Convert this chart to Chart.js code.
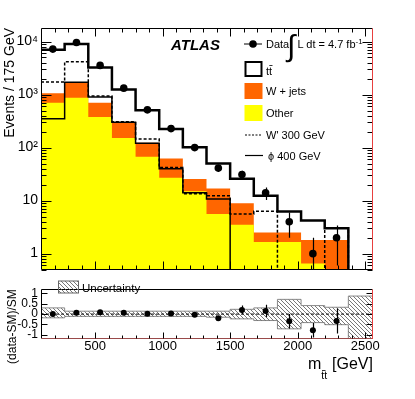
<!DOCTYPE html>
<html>
<head>
    <title>m_tt spectrum</title>
    <script src="https://cdn.jsdelivr.net/npm/chart.js"></script>
    <style>
        body {
            margin: 0;
            background-color: #ffffff;
        }

        #wrap {
            position: relative;
            width: 415px;
            height: 399px;
            overflow: hidden;
        }

        canvas {
            position: absolute;
            left: 0;
        }

        #overlay {
            position: absolute;
            left: 0;
            top: 0;
            pointer-events: none;
            font-family: "Liberation Sans", Arial, sans-serif;
        }
    </style>
</head>
<body>
    <div id="wrap">
        <canvas id="mainChart" width="415" height="281" style="top:0px"></canvas>
        <canvas id="ratioChart" width="415" height="120" style="top:279px"></canvas>
        <svg id="overlay" width="415" height="399">
            <defs>
                <pattern id="hatchLegend" width="4" height="4" patternUnits="userSpaceOnUse">
                    <path d="M0,0 L4,4 M-1,3 L1,5 M3,-1 L5,1" stroke="#555" stroke-width="0.8"/>
                </pattern>
            </defs>
            <text x="171" y="50" font-size="15" font-weight="bold" font-style="italic">ATLAS</text>

            <line x1="244" y1="44" x2="262" y2="44" stroke="#000" stroke-width="1"/>
            <circle cx="253" cy="44" r="3.8" fill="#000"/>
            <text x="266" y="48" font-size="11">Data</text>
            <text x="287" y="56" font-size="30" font-weight="lighter">∫</text>
            <text x="297.5" y="48" font-size="11">L dt = 4.7 fb<tspan font-size="8" dy="-4">-1</tspan></text>

            <rect x="245.5" y="62" width="16" height="14" fill="#fff" stroke="#000" stroke-width="2"/>
            <text x="266" y="75" font-size="11">tt</text>
            <line x1="269.3" y1="65.5" x2="272.5" y2="65.5" stroke="#000" stroke-width="0.8"/>

            <rect x="244.5" y="83" width="18" height="16" fill="#ff6600"/>
            <text x="266" y="94.5" font-size="11">W + jets</text>

            <rect x="244.5" y="105" width="18" height="16" fill="#ffff00"/>
            <text x="266" y="116.5" font-size="11">Other</text>

            <line x1="245" y1="135" x2="262" y2="135" stroke="#000" stroke-width="1.2" stroke-dasharray="2,1.5"/>
            <text x="266" y="139" font-size="11">W' 300 GeV</text>

            <line x1="245" y1="155.5" x2="263" y2="155.5" stroke="#000" stroke-width="1.2"/>
            <text x="268" y="159.5" font-size="11">ϕ 400 GeV</text>

            <rect x="58.5" y="281" width="20" height="12" fill="url(#hatchLegend)" stroke="#666" stroke-width="1"/>
            <text x="82" y="292" font-size="11.5">Uncertainty</text>

            <text x="308" y="369" font-size="16">m<tspan font-size="10.5" dy="9.5">tt</tspan><tspan x="332" dy="-9.5" font-size="16">[GeV]</tspan></text>
            <line x1="322" y1="370.5" x2="325.5" y2="370.5" stroke="#000" stroke-width="0.8"/>
        </svg>
    </div>

    <script>
        Chart.defaults.font.family = '"Liberation Sans", Arial, sans-serif';
        Chart.defaults.color = '#000';

        // histogram binning (GeV)
        var binEdges = [100, 275, 450, 625, 800, 975, 1150, 1325, 1500, 1675, 1850, 2025, 2200, 2375, 2550];

        // observed events and their errors
        var dataEvents = [7200, 9600, 3550, 1320, 515, 228, 100, 41, 31, 14, 4, 1, 2];
        var dataErrors = [85, 98, 60, 36, 23, 15, 10, 6.4, 5.6, 3.7, 2.0, 1.0, 1.4];

        // SM backgrounds per bin
        var ttbar = [5940, 7320, 2530, 937, 384, 162, 76, 33, 17, 9.9, 3.7, 2.4, 1.2, 0];
        var wjets = [362, 809, 320, 152, 56, 35, 10.5, 11.4, 5.4, 0.85, 0.85, 1.15, 1.8, 0];
        var other = [698, 871, 378, 151, 67, 27, 15, 5.6, 3.5, 1.65, 1.65, 0.65, 0, 0];

        // signal hypotheses
        var wprime300 = [1730, 4150, 935, 307, 145, 42, 13.5, 12.4, 5.6, 6.3, 0, 0, 3.0, 0];
        var phi400 = [348, 1700, 895, 300, 121, 40, 14, 10.7, 0, 0, 0, 0, 0, 0];

        // ratio panel
        var ratioValues = [0.0, 0.07, 0.09, 0.07, 0.02, 0.03, -0.03, -0.2, 0.2, 0.15, -0.34, -0.78, -0.33];
        var ratioErrors = [0.01, 0.01, 0.02, 0.03, 0.04, 0.06, 0.08, 0.1, 0.21, 0.3, 0.35, 0.35, 0.6];
        var uncUp = [0.3, 0.14, 0.14, 0.14, 0.14, 0.14, 0.14, 0.14, 0.23, 0.3, 0.71, 0.41, 0.33, 0.87];
        var uncDown = [-0.18, -0.11, -0.11, -0.11, -0.11, -0.11, -0.11, -0.15, -0.23, -0.31, -0.71, -0.41, -0.51, -1.4];

        // tick labels
        var xTickValues = [500, 1000, 1500, 2000, 2500];
        var xTickLabels = ['500', '1000', '1500', '2000', '2500'];
        var yTickValues = [1, 10, 100, 1000, 10000];
        var yTickLabels = ['1', '10', '10\u00B2', '10\u00B3', '10\u2074'];
        var ratioTickValues = [-1, -0.5, 0, 0.5, 1];
        var ratioTickLabels = ['-1', '-0.5', '0', '0.5', '1'];

        var binCenters = binEdges.slice(0, -1).map(function(e, i) { return (e + binEdges[i + 1]) / 2; });

        // empty bins sit below the log axis, so keep them as a tiny value instead of 0
        var EMPTY = 1e-3;

        // Helper: histogram as step points on the bin edges
        function histPoints(vals, isLog) {
            var pts = vals.map(function(v, i) {
                return {x: binEdges[i], y: (isLog && v <= 0) ? EMPTY : v};
            });
            pts.push({x: binEdges[vals.length], y: pts[pts.length - 1].y});
            return pts;
        }

        function markers(vals) {
            return vals.map(function(v, i) { return {x: binCenters[i], y: v}; });
        }

        var wjetsTop = other.map(function(v, i) { return v + wjets[i]; });
        var totalTop = wjetsTop.map(function(v, i) { return v + ttbar[i]; });

        // ROOT style frame with inward ticks
        function makeFrame(cfg) {
            return {
                id: 'frame',
                afterDraw: function(chart) {
                    var ctx = chart.ctx, a = chart.chartArea;
                    var xs = chart.scales.x, ys = chart.scales.y;
                    var L = Math.floor(a.left) + 0.5, R = Math.round(a.right) + 0.5;
                    var T = Math.round(a.top) + 0.5, B = Math.round(a.bottom) - 0.5;
                    ctx.save();
                    ctx.lineWidth = 1;
                    ctx.strokeStyle = '#000';
                    ctx.beginPath();
                    ctx.moveTo(R, T); ctx.lineTo(L, T); ctx.lineTo(L, B);
                    if (!cfg.bottomColor) ctx.lineTo(R, B);
                    ctx.stroke();
                    if (cfg.bottomColor) {
                        ctx.strokeStyle = cfg.bottomColor;
                        ctx.beginPath(); ctx.moveTo(L, B); ctx.lineTo(R, B); ctx.stroke();
                    }
                    ctx.strokeStyle = '#000';
                    ctx.beginPath();
                    for (var v = 200; v <= 2500; v += 100) {
                        var px = Math.round(xs.getPixelForValue(v)) + 0.5;
                        var len = v % 500 === 0 ? cfg.xMajor : cfg.xMinor;
                        ctx.moveTo(px, B); ctx.lineTo(px, B - len);
                        if (cfg.topTicks) { ctx.moveTo(px, T); ctx.lineTo(px, T + len); }
                    }
                    var yt = [];
                    if (cfg.log) {
                        for (var e = -1; e <= 4; e++) {
                            for (var m = 1; m <= 9; m++) {
                                var val = m * Math.pow(10, e);
                                if (val >= ys.min && val <= ys.max) yt.push([val, m === 1]);
                            }
                        }
                    } else {
                        ratioTickValues.forEach(function(val) { yt.push([val, true]); });
                    }
                    yt.forEach(function(t) {
                        var py = Math.round(ys.getPixelForValue(t[0])) + 0.5;
                        var len = t[1] ? cfg.yMajor : cfg.yMinor;
                        ctx.moveTo(L, py); ctx.lineTo(L + len, py);
                        ctx.moveTo(R, py); ctx.lineTo(R - len, py);
                    });
                    ctx.stroke();
                    ctx.strokeStyle = '#e8403f';
                    ctx.beginPath(); ctx.moveTo(R, T); ctx.lineTo(R, B + 0.5); ctx.stroke();
                    ctx.restore();
                }
            };
        }

        function makeErrorBars(values, errors, isLog) {
            return {
                id: 'errorBars',
                afterDatasetsDraw: function(chart) {
                    var ctx = chart.ctx, a = chart.chartArea;
                    var xs = chart.scales.x, ys = chart.scales.y;
                    ctx.save();
                    ctx.beginPath();
                    ctx.rect(a.left, a.top, a.right - a.left, a.bottom - a.top);
                    ctx.clip();
                    ctx.strokeStyle = '#000';
                    ctx.lineWidth = 1.2;
                    values.forEach(function(v, i) {
                        var px = Math.round(xs.getPixelForValue(binCenters[i])) + 0.5;
                        var lo = v - errors[i];
                        var y1 = (isLog && lo <= 0) ? a.bottom : ys.getPixelForValue(lo);
                        var y2 = ys.getPixelForValue(v + errors[i]);
                        ctx.beginPath(); ctx.moveTo(px, y1); ctx.lineTo(px, y2); ctx.stroke();
                    });
                    ctx.restore();
                }
            };
        }

        function stepLine(vals, isLog, extra) {
            var ds = {
                data: histPoints(vals, isLog),
                stepped: true,
                pointRadius: 0,
                fill: false,
                borderColor: '#000'
            };
            for (var k in extra) ds[k] = extra[k];
            return ds;
        }

        var mainChart = new Chart(document.getElementById('mainChart'), {
            type: 'line',
            data: {
                datasets: [
                    {
                        label: 'Data',
                        data: markers(dataEvents),
                        showLine: false,
                        pointRadius: 3.8,
                        pointBackgroundColor: '#000',
                        pointBorderColor: '#000',
                        pointBorderWidth: 0,
                        order: 0
                    },
                    stepLine(totalTop, true, {label: 'ttbar', borderWidth: 2.5, order: 1}),
                    stepLine(phi400, true, {label: 'phi 400 GeV', borderWidth: 1.5, order: 2}),
                    stepLine(wprime300, true, {label: "W' 300 GeV", borderWidth: 1.5, borderDash: [3, 2], order: 3}),
                    stepLine(other, true, {label: 'Other', borderColor: 'rgba(0,0,0,0)', backgroundColor: '#ffff00', fill: 'start', order: 4}),
                    stepLine(wjetsTop, true, {label: 'W + jets', borderColor: 'rgba(0,0,0,0)', backgroundColor: '#ff6600', fill: 'start', order: 5})
                ]
            },
            options: {
                responsive: false,
                animation: false,
                layout: {padding: {top: 28, right: 43, bottom: 1, left: 0}},
                plugins: {legend: {display: false}, tooltip: {enabled: false}},
                scales: {
                    x: {type: 'linear', min: 100, max: 2550, display: false},
                    y: {
                        type: 'logarithmic',
                        min: 0.5,
                        max: 18000,
                        afterFit: function(s) { s.width = 41; },
                        afterBuildTicks: function(s) {
                            s.ticks = yTickValues.map(function(v) { return {value: v}; });
                        },
                        grid: {display: false, drawTicks: false},
                        border: {display: false},
                        ticks: {
                            font: {size: 14},
                            padding: 3,
                            autoSkip: false,
                            callback: function(v) { return yTickLabels[yTickValues.indexOf(v)]; }
                        },
                        title: {
                            display: true,
                            text: 'Events / 175 GeV',
                            align: 'end',
                            font: {size: 14},
                            padding: {top: 2}
                        }
                    }
                }
            },
            plugins: [
                makeFrame({xMajor: 8, xMinor: 4, yMajor: 10, yMinor: 5, log: true, topTicks: true}),
                makeErrorBars(dataEvents, dataErrors, true)
            ]
        });

        // hatch pattern for the uncertainty band
        function hatchPattern() {
            var c = document.createElement('canvas');
            c.width = 4; c.height = 4;
            var g = c.getContext('2d');
            g.strokeStyle = '#555';
            g.lineWidth = 0.8;
            g.beginPath();
            g.moveTo(0, 0); g.lineTo(4, 4);
            g.moveTo(-1, 3); g.lineTo(1, 5);
            g.moveTo(3, -1); g.lineTo(5, 1);
            g.stroke();
            return g.createPattern(c, 'repeat');
        }

        var ratioChart = new Chart(document.getElementById('ratioChart'), {
            type: 'line',
            data: {
                datasets: [
                    {
                        label: '(data-SM)/SM',
                        data: markers(ratioValues),
                        showLine: false,
                        pointRadius: 3,
                        pointBackgroundColor: '#000',
                        pointBorderColor: '#000',
                        pointBorderWidth: 0,
                        order: 0
                    },
                    stepLine(uncUp, false, {label: 'Uncertainty', borderColor: '#888', borderWidth: 1, backgroundColor: hatchPattern(), fill: '+1', order: 2}),
                    stepLine(uncDown, false, {label: 'unc low', borderColor: '#888', borderWidth: 1, order: 3}),
                    {
                        label: 'zero',
                        data: [{x: binEdges[0], y: 0}, {x: binEdges[binEdges.length - 1], y: 0}],
                        borderColor: '#000',
                        borderWidth: 1,
                        borderDash: [3, 2],
                        pointRadius: 0,
                        order: 1
                    }
                ]
            },
            options: {
                responsive: false,
                animation: false,
                layout: {padding: {top: 1, right: 43, bottom: 0, left: 0}},
                plugins: {legend: {display: false}, tooltip: {enabled: false}},
                scales: {
                    x: {
                        type: 'linear',
                        min: 100,
                        max: 2550,
                        afterFit: function(s) { s.height = 60; },
                        afterBuildTicks: function(s) {
                            s.ticks = xTickValues.map(function(v) { return {value: v}; });
                        },
                        grid: {display: false, drawTicks: false},
                        border: {display: false},
                        ticks: {
                            font: {size: 13},
                            padding: 0,
                            maxRotation: 0,
                            autoSkip: false,
                            callback: function(v) { return xTickLabels[xTickValues.indexOf(v)]; }
                        }
                    },
                    y: {
                        min: -1.2,
                        max: 1.2,
                        afterFit: function(s) { s.width = 41; },
                        afterBuildTicks: function(s) {
                            s.ticks = ratioTickValues.map(function(v) { return {value: v}; });
                        },
                        grid: {display: false, drawTicks: false},
                        border: {display: false},
                        ticks: {
                            font: {size: 12},
                            padding: 3,
                            autoSkip: false,
                            callback: function(v) { return ratioTickLabels[ratioTickValues.indexOf(v)]; }
                        },
                        title: {
                            display: true,
                            text: '(data-SM)/SM',
                            align: 'end',
                            font: {size: 12},
                            padding: {top: 5}
                        }
                    }
                }
            },
            plugins: [
                makeFrame({xMajor: 6, xMinor: 3, yMajor: 6, yMinor: 3, log: false, topTicks: false, bottomColor: '#9a4a4a'}),
                makeErrorBars(ratioValues, ratioErrors, false)
            ]
        });
    </script>
</body>
</html>
